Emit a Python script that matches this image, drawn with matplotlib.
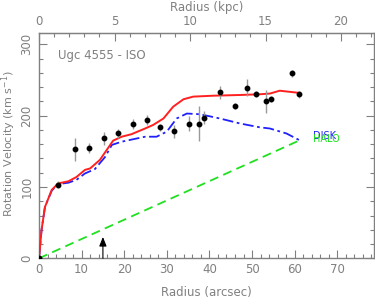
import numpy as np
import matplotlib
matplotlib.use("Agg")
import matplotlib.pyplot as plt

# observed rotation curve (arcsec, km/s)
r_obs = [0.0, 4.5, 8.5, 11.8, 15.25, 18.6, 22.0, 25.3, 28.5, 31.7, 35.2, 37.6, 38.8,
         42.4, 46.0, 48.9, 51.0, 53.2, 54.4, 59.5, 61.0]
v_obs = [0, 103, 153, 154, 168, 175, 188, 193.5, 184, 178, 189, 189, 197,
         233, 213.6, 239, 230, 220, 223, 259.5, 230]
v_err = [0, 5, 16, 7, 9, 7, 7, 7, 5, 9, 10, 25, 9,
         9, 4, 12, 4, 16, 4, 5, 5]

# total model fit
r_fit = [0, 0.6, 1.4, 3.0, 4.5, 6.9, 8.8, 10.8, 12.0, 14.3, 15.9, 17.4, 19.4, 21.7,
         24.9, 26.8, 29.2, 31.5, 33.9, 36.2, 40.9, 47.2, 51.8, 54.2, 56.5, 61.0]
v_fit = [0, 40, 72, 96, 105, 108, 114, 124, 126, 138, 152, 165, 170.5, 174,
         182, 187, 196, 212.6, 223, 226.7, 228, 229, 230, 231, 235, 232]

# disk component
r_disk = [0, 0.6, 1.4, 3.0, 4.5, 6.9, 8.8, 10.8, 13.1, 15.5, 17.1, 19.4, 24.9,
          27.6, 30.0, 32.3, 34.7, 37.8, 42.5, 47.2, 51.8, 54.2, 58.1, 61.0]
v_disk = [0, 40, 72, 95, 104, 106, 110, 119, 125, 142, 159, 163.5, 170.5,
          170.5, 177.6, 196, 203, 202, 196, 189, 183.7, 182, 175, 166]

# halo component
r_halo = [0, 61.0]
v_halo = [0, 165]

grey = "#808080"
fs = 8.5
plt.rcParams["font.family"] = "DejaVu Sans"

fig = plt.figure(figsize=(3.75, 3.0), dpi=100)
ax = fig.add_axes([0.104, 0.139, 0.893, 0.750])

ax.errorbar(r_obs, v_obs, yerr=v_err, fmt="o", color="black", ms=3.2,
            ecolor="#9a9a9a", elinewidth=1.0, capsize=0, zorder=4)
ax.plot(r_fit, v_fit, color="#ff2020", lw=1.4, zorder=3)
ax.plot(r_disk, v_disk, color="#2020ff", lw=1.3, dashes=(6, 2, 1.5, 2), zorder=2)
ax.plot(r_halo, v_halo, color="#20e020", lw=1.3, dashes=(5, 3), zorder=2)

ax.text(64.2, 171, "DISK", color="#2020ff", fontsize=7, va="center")
ax.text(64.2, 167, "HALO", color="#20e020", fontsize=7, va="center")
ax.text(4.5, 284, "Ugc 4555 - ISO", color=grey, fontsize=fs, va="center")

ax.annotate("", xy=(15, 30), xytext=(15, 0),
            arrowprops=dict(arrowstyle="-|>,head_length=0.55,head_width=0.22",
                            color="black", lw=0.8, shrinkA=0, shrinkB=0))

ax.set_xlim(0, 78.6)
ax.set_ylim(0, 315.5)
ax.set_xticks(np.arange(0, 80, 10))
ax.set_xticks(np.arange(0, 79, 2), minor=True)
ax.set_yticks([0, 100, 200, 300])
ax.set_yticks(np.arange(0, 316, 20), minor=True)
ax.tick_params(which="both", direction="in", colors=grey, labelsize=fs,
               right=True, labelcolor=grey)
ax.tick_params(which="major", length=6, width=0.8)
ax.tick_params(which="minor", length=3, width=0.8)
ax.tick_params(axis="y", pad=4)
for lbl in ax.get_yticklabels():
    lbl.set_rotation(90)
    lbl.set_va("center")
for s in ax.spines.values():
    s.set_color(grey)
    s.set_linewidth(1.0)

ax.set_xlabel("Radius (arcsec)", color=grey, fontsize=fs)
ax.xaxis.set_label_coords(0.5, -0.123)
ax.set_ylabel("Rotation Velocity (km s$^{-1}$)", color=grey, fontsize=8)
ax.yaxis.set_label_coords(-0.063, 0.51)

k = 0.2821
top = ax.secondary_xaxis("top", functions=(lambda x: x * k, lambda x: x / k))
top.set_xticks([0, 5, 10, 15, 20])
top.set_xticks(np.arange(0, 23, 1), minor=True)
top.tick_params(which="both", direction="in", colors=grey, labelsize=fs, labelcolor=grey)
top.tick_params(which="major", length=6, width=0.8)
top.tick_params(which="minor", length=3, width=0.8)
top.spines["top"].set_color(grey)
top.set_xlabel("Radius (kpc)", color=grey, fontsize=fs, labelpad=3)

fig.savefig("out.png", dpi=100)
